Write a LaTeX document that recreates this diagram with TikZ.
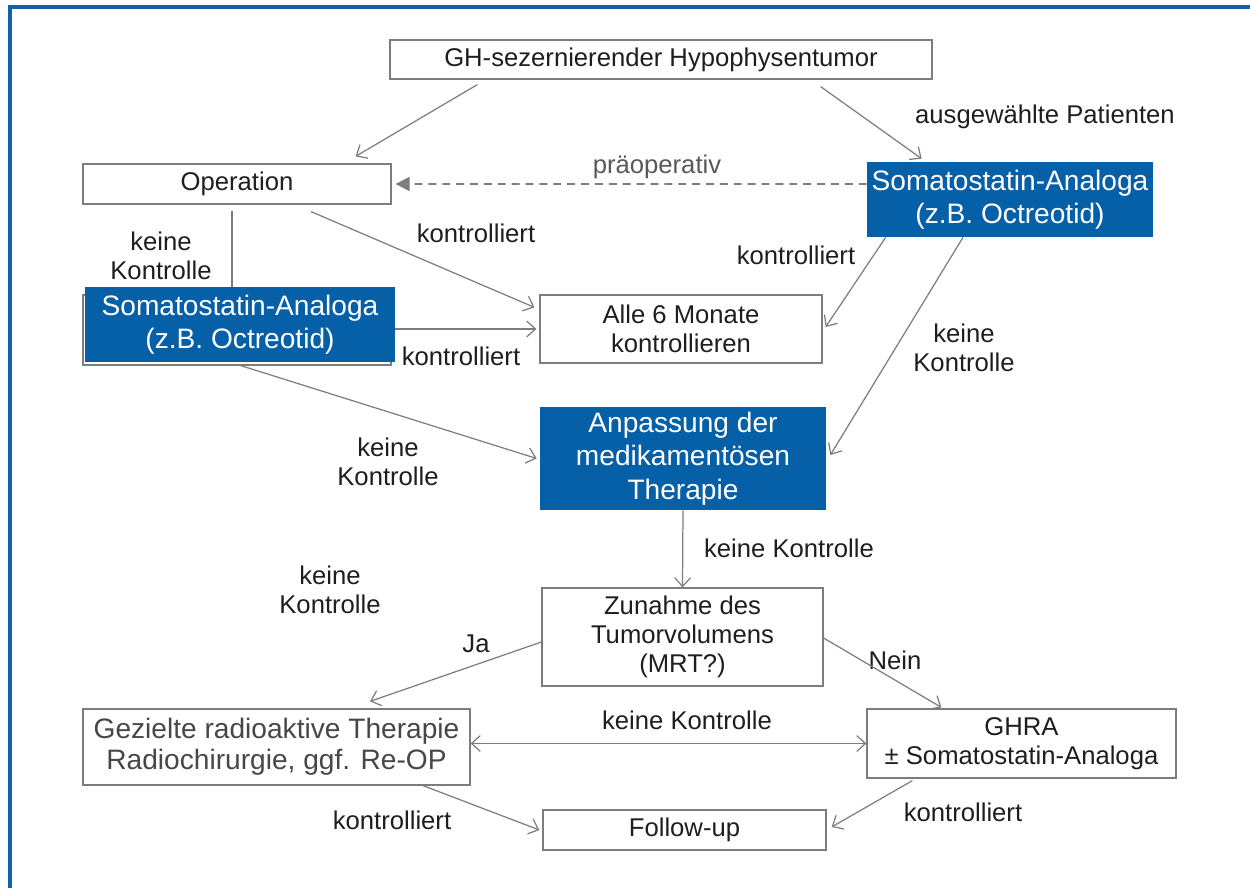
\documentclass[tikz,border=0pt]{standalone}
\usepackage{fontspec}
\setmainfont{Liberation Sans}
\usetikzlibrary{arrows.meta,shadows}
\definecolor{sdblue}{RGB}{5,96,168}
\definecolor{frameblue}{RGB}{18,98,170}
\definecolor{linegray}{RGB}{125,125,125}
\definecolor{txtgray}{RGB}{30,30,30}
\newcommand{\normaltxt}{\fontsize{14.6}{16.5}\selectfont}
\newcommand{\bluetxt}{\fontsize{16}{19}\selectfont}
\newcommand{\radiotxt}{\fontsize{16}{17.8}\selectfont}

\tikzset{
	box/.style={draw=linegray, fill=white, line width=0.7pt, align=center,
		inner sep=0pt, font=\normaltxt, text=txtgray,
		drop shadow={shadow xshift=0.8pt, shadow yshift=-0.8pt, opacity=0.2}},
	bluebox/.style={fill=sdblue, align=center, inner sep=0pt,
		font=\bluetxt, text=white},
	lbl/.style={align=center, inner sep=0pt, font=\normaltxt, text=txtgray},
	conn/.style={draw=linegray, line width=0.7pt},
	arr/.style={conn, -{Straight Barb[length=5pt,width=9pt]}},
	dblarr/.style={conn, {Straight Barb[length=5pt,width=9pt]}-{Straight Barb[length=5pt,width=9pt]}},
	dasharr/.style={draw=linegray, line width=1.1pt, dash pattern=on 4.5pt off 3.4pt,
		-{Triangle[length=8pt,width=8pt]}}
}

\begin{document}
\begin{tikzpicture}
	\useasboundingbox (0,0) rectangle (25,-17.76);
	% Rahmen
	\draw[frameblue, line width=0.08cm] (25,-0.14) -- (0.2,-0.14) -- (0.2,-17.76);

	% Boxen
	\node[box, minimum width=10.84cm, minimum height=0.78cm] (tumor) at (13.22,-1.19)
		{GH-sezernierender Hypophysentumor};
	\node[box, minimum width=6.16cm, minimum height=0.8cm] (op) at (4.74,-3.68)
		{Operation};
	\node[bluebox, minimum width=5.72cm, minimum height=1.5cm] (saR) at (20.2,-3.99)
		{Somatostatin-Analoga\\(z.B. Octreotid)};
	\node[box, minimum width=6.16cm, minimum height=1.4cm] (saLback) at (4.74,-6.6) {};
	\node[bluebox, minimum width=6.2cm, minimum height=1.5cm] (saL) at (4.8,-6.49)
		{Somatostatin-Analoga\\(z.B. Octreotid)};
	\node[box, minimum width=5.64cm, minimum height=1.36cm] (alle) at (13.62,-6.58)
		{Alle 6 Monate\\kontrollieren};
	\node[bluebox, minimum width=5.72cm, minimum height=2.06cm] (anp) at (13.66,-9.17)
		{Anpassung der\\medikament\"osen\\Therapie};
	\node[box, minimum width=5.62cm, minimum height=1.96cm] (zun) at (13.65,-12.74)
		{Zunahme des\\Tumorvolumens\\(MRT?)};
	\node[box, minimum width=7.74cm, minimum height=1.52cm, font=\radiotxt, text=black!72] (radio) at (5.53,-14.94)
		{Gezielte radioaktive Therapie\\Radiochirurgie, ggf. Re-OP};
	\node[box, minimum width=6.18cm, minimum height=1.38cm] (ghra) at (20.43,-14.87)
		{GHRA\\± Somatostatin-Analoga};
	\node[box, minimum width=5.66cm, minimum height=0.8cm] (follow) at (13.69,-16.6)
		{Follow-up};

	% Beschriftungen
	\node[lbl] (lpat) at (20.9,-2.34) {ausgew\"ahlte Patienten};
	\node[lbl, text=black!65] (lpraeop) at (13.14,-3.34) {pr\"aoperativ};
	\node[lbl] (lkeinOp) at (3.22,-5.12) {keine\\Kontrolle};
	\node[lbl] (lkontOp) at (9.52,-4.66) {kontrolliert};
	\node[lbl] (lkontSaL) at (9.22,-7.12) {kontrolliert};
	\node[lbl] (lkontSaR) at (15.92,-5.1) {kontrolliert};
	\node[lbl] (lkeinSaR) at (19.28,-6.96) {keine\\Kontrolle};
	\node[lbl] (lkeinSaL) at (7.76,-9.24) {keine\\Kontrolle};
	\node[lbl] (lkeinAnp) at (15.78,-10.96) {keine Kontrolle};
	\node[lbl] (lkeinFrei) at (6.6,-11.8) {keine\\Kontrolle};
	\node[lbl] (lja) at (9.52,-12.88) {Ja};
	\node[lbl] (lnein) at (17.9,-13.2) {Nein};
	\node[lbl] (lkeinMitte) at (13.74,-14.4) {keine Kontrolle};
	\node[lbl] (lkontRadio) at (7.84,-16.4) {kontrolliert};
	\node[lbl] (lkontGhra) at (19.26,-16.24) {kontrolliert};

	% Verbindungen
	\draw[arr] ([xshift=1.76cm,yshift=-0.1cm]tumor.south west) -- ([xshift=-0.72cm,yshift=0.14cm]op.north east);
	\draw[arr] ([xshift=-2.24cm,yshift=-0.14cm]tumor.south east) -- ([xshift=1.1cm,yshift=0.06cm]saR.north west);
	\draw[dasharr] ([yshift=0.31cm]saR.west) -- ([xshift=0.08cm]op.east);
	\draw[conn] ([xshift=-0.1cm,yshift=-0.12cm]op.south) -- ([xshift=-0.16cm]saL.north);
	\draw[arr] ([xshift=1.48cm,yshift=-0.14cm]op.south) -- ([xshift=-0.1cm,yshift=-0.26cm]alle.north west);
	\draw[arr] (saL.east |- alle.west) -- ([xshift=-0.06cm]alle.west);
	\draw[arr] ([xshift=0.38cm]saR.south west) -- ([xshift=0.06cm,yshift=0.04cm]alle.east);
	\draw[arr] ([xshift=-0.94cm]saR.south) -- ([xshift=0.08cm,yshift=0.07cm]anp.east);
	\draw[arr] ([yshift=-0.06cm]saL.south) -- ([xshift=-0.06cm]anp.west);
	\draw[arr] (anp.south) -- (zun.north);
	\draw[arr] ([yshift=-0.1cm]zun.west) -- ([xshift=1.87cm,yshift=0.14cm]radio.north);
	\draw[arr] ([yshift=-0.02cm]zun.east) -- ([xshift=1.5cm,yshift=0.02cm]ghra.north west);
	\draw[dblarr] (radio.east |- ghra.west) -- (ghra.west);
	\draw[arr] ([xshift=2.93cm]radio.south) -- ([xshift=-0.06cm]follow.west);
	\draw[arr] ([xshift=0.92cm,yshift=-0.04cm]ghra.south west) -- ([xshift=0.1cm,yshift=0.06cm]follow.east);
\end{tikzpicture}
\end{document}
